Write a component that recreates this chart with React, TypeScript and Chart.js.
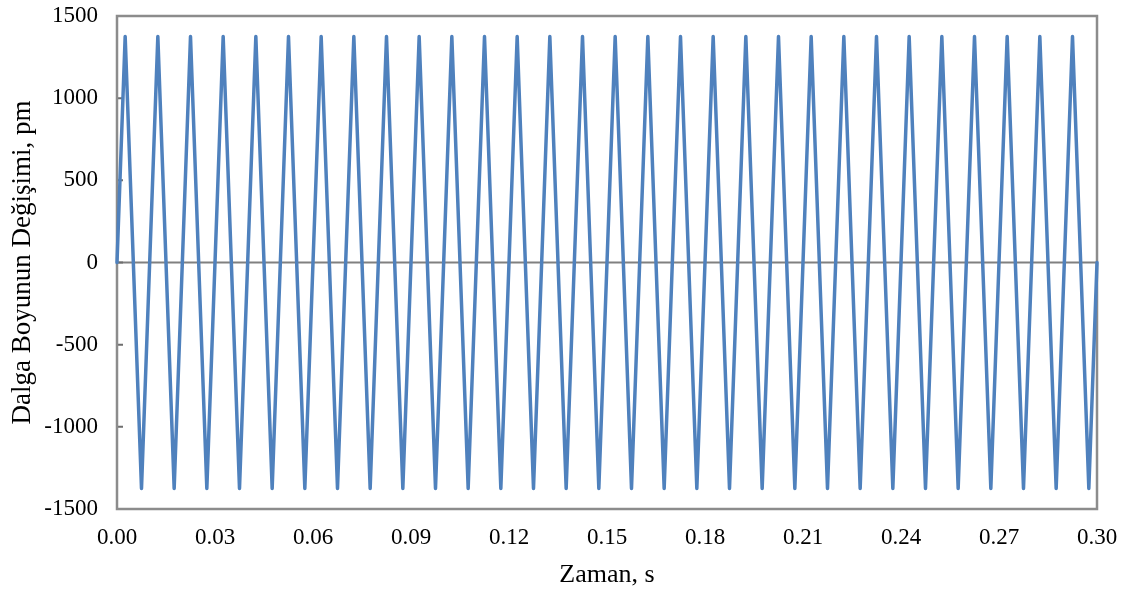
import React, { useEffect, useRef } from "react";
import { Chart, registerables } from "chart.js";

Chart.register(...registerables);

// Time (s) of each vertex of the recorded signal
const times: number[] = [
  0, 0.0025, 0.0075, 0.0125, 0.0175, 0.0225, 0.0275, 0.0325, 0.0375, 0.0425,
  0.0475, 0.0525, 0.0575, 0.0625, 0.0675, 0.0725, 0.0775, 0.0825, 0.0875,
  0.0925, 0.0975, 0.1025, 0.1075, 0.1125, 0.1175, 0.1225, 0.1275, 0.1325,
  0.1375, 0.1425, 0.1475, 0.1525, 0.1575, 0.1625, 0.1675, 0.1725, 0.1775,
  0.1825, 0.1875, 0.1925, 0.1975, 0.2025, 0.2075, 0.2125, 0.2175, 0.2225,
  0.2275, 0.2325, 0.2375, 0.2425, 0.2475, 0.2525, 0.2575, 0.2625, 0.2675,
  0.2725, 0.2775, 0.2825, 0.2875, 0.2925, 0.2975, 0.3,
];

// Wavelength shift (pm)
const wavelengthShift: number[] = [
  0, 1375, -1375, 1375, -1375, 1375, -1375, 1375, -1375, 1375,
  -1375, 1375, -1375, 1375, -1375, 1375, -1375, 1375, -1375,
  1375, -1375, 1375, -1375, 1375, -1375, 1375, -1375, 1375,
  -1375, 1375, -1375, 1375, -1375, 1375, -1375, 1375, -1375,
  1375, -1375, 1375, -1375, 1375, -1375, 1375, -1375, 1375,
  -1375, 1375, -1375, 1375, -1375, 1375, -1375, 1375, -1375,
  1375, -1375, 1375, -1375, 1375, -1375, 0,
];

const xTitle = "Zaman, s";
const yTitle = "Dalga Boyunun Değişimi, pm";

export default function App() {
  const ref = useRef<HTMLCanvasElement>(null);

  useEffect(() => {
    document.body.style.margin = "0";
    const canvas = ref.current;
    if (!canvas) return;

    const framePlugin = {
      id: "frame",
      beforeDatasetsDraw(chart: any) {
        const { ctx, chartArea: a, scales } = chart;
        const y = scales.y;
        ctx.save();
        const y0 = y.getPixelForValue(0);
        ctx.strokeStyle = "#808080";
        ctx.lineWidth = 2;
        ctx.beginPath();
        ctx.moveTo(a.left, y0);
        ctx.lineTo(a.right, y0);
        ctx.stroke();
        ctx.strokeStyle = "#6e6e6e";
        ctx.lineWidth = 2;
        ctx.beginPath();
        y.ticks.forEach((t: any) => {
          const py = y.getPixelForValue(t.value);
          ctx.moveTo(a.left, py);
          ctx.lineTo(a.left + 6, py);
        });
        ctx.stroke();
        ctx.strokeStyle = "#8c8c8c";
        ctx.lineWidth = 2.5;
        ctx.strokeRect(a.left, a.top, a.right - a.left, a.bottom - a.top);
        ctx.restore();
      },
    };

    const font = { family: "'Liberation Serif', 'Times New Roman', serif", size: 23 };
    const xTitleFont = { family: "'Liberation Serif', 'Times New Roman', serif", size: 26 };
    const yTitleFont = { family: "'Liberation Serif', 'Times New Roman', serif", size: 27 };

    const chart = new Chart(canvas, {
      type: "line",
      data: {
        datasets: [
          {
            data: times.map((t, i) => ({ x: t, y: wavelengthShift[i] })),
            borderColor: "#4F81BD",
            borderWidth: 3.5,
            borderJoinStyle: "round",
            borderCapStyle: "round",
            pointRadius: 0,
            tension: 0,
            clip: false as any,
          },
        ],
      },
      options: {
        responsive: false,
        animation: false,
        layout: { padding: { left: 0, right: 28, top: 16, bottom: 0 } },
        plugins: { legend: { display: false }, tooltip: { enabled: false } },
        scales: {
          x: {
            type: "linear",
            min: 0,
            max: 0.3,
            afterFit: (s: any) => {
              s.height = 84;
              s.paddingLeft = 0;
              s.paddingRight = 0;
            },
            ticks: {
              stepSize: 0.03,
              callback: (v: any) => Number(v).toFixed(2),
              font,
              color: "#000",
              padding: 15,
              maxRotation: 0,
            },
            grid: { display: false, drawTicks: false },
            border: { display: false },
            title: {
              display: true,
              text: xTitle,
              font: xTitleFont,
              color: "#000",
              padding: { top: 0, bottom: 2 },
            },
          },
          y: {
            type: "linear",
            min: -1500,
            max: 1500,
            afterFit: (s: any) => {
              s.width = 117;
              s.paddingTop = 0;
              s.paddingBottom = 0;
            },
            ticks: {
              stepSize: 500,
              callback: (v: any) => String(Math.round(Number(v))),
              font,
              color: "#000",
              padding: 19,
            },
            grid: { display: false, drawTicks: false },
            border: { display: false },
            title: {
              display: true,
              text: yTitle,
              font: yTitleFont,
              color: "#000",
              padding: { top: 7, bottom: 0 },
            },
          },
        },
      },
      plugins: [framePlugin],
    });

    return () => chart.destroy();
  }, []);

  return (
    <div style={{ width: 1125, height: 593 }}>
      <canvas ref={ref} width={1125} height={593} style={{ display: "block" }} />
    </div>
  );
}
